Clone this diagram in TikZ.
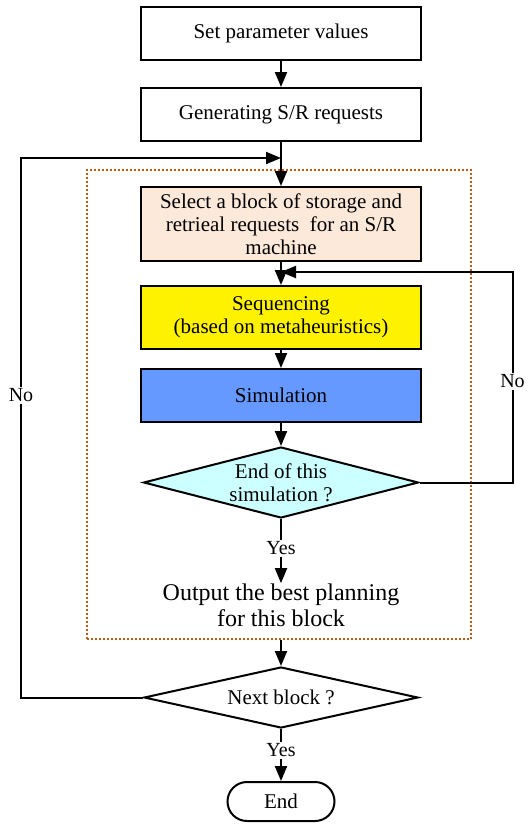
\documentclass[tikz,border=0pt]{standalone}
\usepackage{fontspec}
\setmainfont{Liberation Serif}
\usetikzlibrary{shapes.geometric,arrows.meta,positioning}
\definecolor{peach}{RGB}{253,233,217}
\definecolor{simblue}{RGB}{102,153,255}
\definecolor{lightcyan}{RGB}{204,255,255}
\definecolor{framebrown}{RGB}{190,90,20}

\begin{document}
\begin{tikzpicture}
				[
					x=0.5pt, y=-0.5pt,
					every node/.style={font=\fontsize{10.5}{11.5}\selectfont},
					rectanglenode/.style={rectangle, draw, line width=1pt, minimum width=140pt, minimum height=26.5pt, align=center, inner sep=2pt},
					decisionnode/.style={diamond, draw, line width=1pt, aspect=4, inner xsep=0pt, inner ysep=-4pt, minimum width=137.5pt, minimum height=35.5pt, align=center},
					endnode/.style={rectangle, draw, rounded corners=9.75pt, line width=1pt, minimum width=53.5pt, minimum height=19.5pt},
					dottedbox/.style={rectangle, draw=framebrown, line width=1pt, dash pattern=on 1pt off 1pt, minimum width=192pt, minimum height=234.5pt},
					textlabel/.style={fill=white, inner sep=1pt, font=\fontsize{10}{11}\selectfont},
					arr/.style={-{Triangle[length=7.5pt,width=6pt]}, line width=1pt},
				]
				\useasboundingbox (0,0) rectangle (530,825);

				\node [dottedbox] (blockframe) at (279,404.5) {};

				\node [rectanglenode] (setparams) at (281,33.5) {Set parameter values};
				\node [rectanglenode] (generate) at (281,114.5) {Generating S/R requests};
				\node [rectanglenode, fill=peach, minimum height=37pt] (selectblock) at (281,224) {Select a block of storage and\\retrieal requests \ for an S/R\\machine};
				\node [rectanglenode, fill=yellow, minimum height=31.5pt] (sequencing) at (281,317.5) {Sequencing\\(based on metaheuristics)};
				\node [rectanglenode, fill=simblue] (simulation) at (281,395.5) {Simulation};
				\node [decisionnode, fill=lightcyan] (endsim) at (281,482.5) {End of this\\simulation ?};
				\node [font=\fontsize{12}{13}\selectfont, align=center, inner sep=0pt] (output) at (281,605) {Output the best planning\\for this block};
				\node [decisionnode, minimum width=137pt, minimum height=30.5pt] (nextblock) at (281,697.5) {Next block ?};
				\node [endnode] (finish) at (281,801.5) {End};

				\coordinate (joinouter) at (281,158);
				\coordinate (joininner) at (281,272);

				\draw[arr] (setparams) -- (generate);
				\draw[arr] (generate) -- (selectblock);
				\draw[arr] (selectblock) -- (sequencing);
				\draw[arr] (sequencing) -- (simulation);
				\draw[arr] (simulation) -- (endsim);
				\draw[arr] (endsim) -- node[textlabel, pos=0.46] {Yes} (output);
				\draw[arr] (blockframe.south -| nextblock.north) -- (nextblock);
				\draw[arr] (nextblock) -- node[textlabel, pos=0.41] {Yes} (finish);

				\draw[arr] (nextblock.west) -- ++(-122,0) |- node[textlabel, pos=0.28] {No} (joinouter);
				\draw[arr] (endsim.east) -- ++(93,0) |- node[textlabel, pos=0.24] {No} (joininner);

			\end{tikzpicture}
\end{document}
